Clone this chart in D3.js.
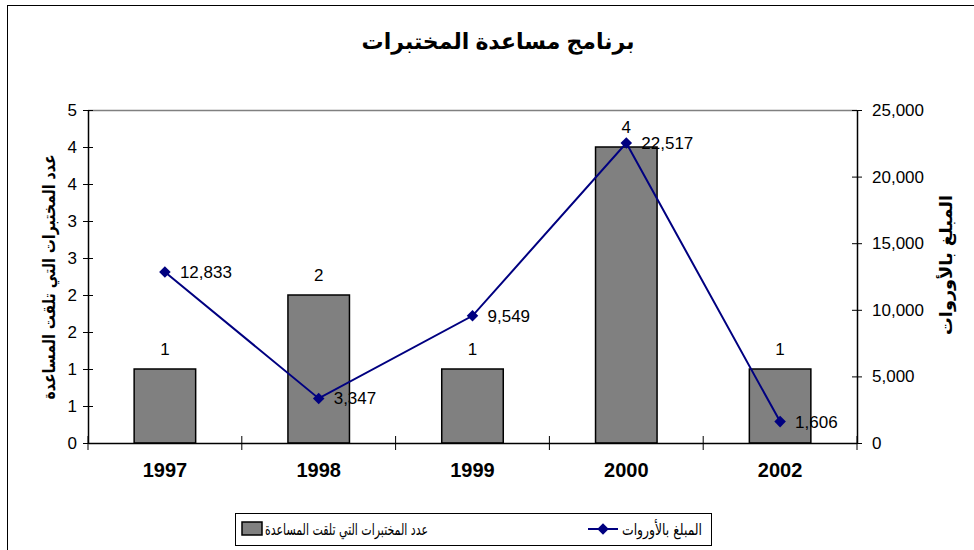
<!DOCTYPE html>
<html>
<head>
<meta charset="utf-8">
<script src="https://cdn.jsdelivr.net/npm/d3@7"></script>
<style>
  html, body { margin: 0; padding: 0; background: #fff; }
  svg { display: block; font-family: "Liberation Sans", Arial, "DejaVu Sans", sans-serif; }
</style>
</head>
<body>
<svg id="chart" width="974" height="550"></svg>
<script>
const title = "برنامج مساعدة المختبرات";
const years = ["1997", "1998", "1999", "2000", "2002"];
const labCounts = [1, 2, 1, 4, 1];
const amounts = [12833, 3347, 9549, 22517, 1606];
const leftTickValues = [0, 0.5, 1, 1.5, 2, 2.5, 3, 3.5, 4, 4.5];
const leftTickLabels = ["0", "1", "1", "2", "2", "3", "3", "4", "4", "5"];
const rightTickValues = [0, 5000, 10000, 15000, 20000, 25000];
const leftTitle = "عدد المختبرات التي تلقت المساعدة";
const rightTitle = "المبلغ بالأوروات";
const barSeriesName = "عدد المختبرات التي تلقت المساعدة";
const lineSeriesName = "المبلغ بالأوروات";

const svg = d3.select("#chart");
const plot = { left: 88, right: 857, top: 110, bottom: 443 };
const lineColor = "#000080";

// outer frame
svg.append("rect").attr("x", 7.5).attr("y", 5.5).attr("width", 1000).attr("height", 600)
  .attr("fill", "#fff").attr("stroke", "#000").attr("stroke-width", 1);

// title
svg.append("text").attr("x", 498).attr("y", 49).attr("text-anchor", "middle")
  .attr("font-size", 22).attr("font-weight", "bold").text(title);

const x = d3.scaleBand().domain(years).range([plot.left, plot.right]).paddingInner(0).paddingOuter(0);
const yL = d3.scaleLinear().domain([0, 4.5]).range([plot.bottom, plot.top]);
const yR = d3.scaleLinear().domain([0, 25000]).range([plot.bottom, plot.top]);

// plot area top border (gray)
svg.append("line").attr("x1", plot.left).attr("x2", plot.right)
  .attr("y1", plot.top + 0.5).attr("y2", plot.top + 0.5)
  .attr("stroke", "#808080").attr("stroke-width", 1.5);

// bars
const barW = x.bandwidth() * 0.4;
svg.append("g").selectAll("rect").data(years).join("rect")
  .attr("x", d => x(d) + (x.bandwidth() - barW) / 2)
  .attr("y", (d, i) => yL(labCounts[i]))
  .attr("width", barW)
  .attr("height", (d, i) => plot.bottom - yL(labCounts[i]))
  .attr("fill", "#808080").attr("stroke", "#000").attr("stroke-width", 1.5);

// bar labels
svg.append("g").selectAll("text").data(years).join("text")
  .attr("x", d => x(d) + x.bandwidth() / 2)
  .attr("y", (d, i) => yL(labCounts[i]) - 14)
  .attr("text-anchor", "middle").attr("font-size", 17)
  .text((d, i) => labCounts[i]);

// left axis
const axL = svg.append("g").attr("transform", `translate(${plot.left},0)`)
  .call(d3.axisLeft(yL).tickValues(leftTickValues).tickFormat((d, i) => leftTickLabels[i]).tickSizeInner(5).tickSizeOuter(0).tickPadding(6));
axL.select(".domain").attr("stroke", "#000").attr("stroke-width", 1.5);
axL.selectAll(".tick line").attr("x1", 5).attr("x2", -5).attr("stroke", "#000");
axL.selectAll(".tick text").attr("font-size", 17).attr("font-family", "Liberation Sans, Arial, sans-serif").attr("fill", "#000");

// right axis
const axR = svg.append("g").attr("transform", `translate(${plot.right},0)`)
  .call(d3.axisRight(yR).tickValues(rightTickValues).tickFormat(d3.format(",")).tickSizeInner(5).tickSizeOuter(0).tickPadding(10));
axR.select(".domain").attr("stroke", "#000").attr("stroke-width", 1.5);
axR.selectAll(".tick line").attr("x1", -5).attr("x2", 5).attr("stroke", "#000");
axR.selectAll(".tick text").attr("font-size", 17).attr("font-family", "Liberation Sans, Arial, sans-serif").attr("fill", "#000");

// bottom axis
const axB = svg.append("g").attr("transform", `translate(0,${plot.bottom})`)
  .call(d3.axisBottom(x).tickSize(0).tickPadding(20));
axB.select(".domain").attr("stroke", "#000").attr("stroke-width", 1.5);
axB.selectAll(".tick text").attr("font-size", 20).attr("font-weight", "bold")
  .attr("font-family", "Liberation Sans, Arial, sans-serif").attr("fill", "#000").attr("dy", "0.71em");
// category boundary ticks
const bounds = years.map(d => x(d)).concat([x(years[years.length - 1]) + x.bandwidth()]);
axB.append("g").selectAll("line").data(bounds).join("line")
  .attr("x1", d => d).attr("x2", d => d).attr("y1", -7).attr("y2", 7)
  .attr("stroke", "#000").attr("stroke-width", 1);

// line series
const line = d3.line().x((d, i) => x(years[i]) + x.bandwidth() / 2).y(d => yR(d));
svg.append("path").datum(amounts).attr("d", line)
  .attr("fill", "none").attr("stroke", lineColor).attr("stroke-width", 2);
const diamond = d3.symbol().type(d3.symbolDiamond2).size(85);
svg.append("g").selectAll("path").data(amounts).join("path")
  .attr("transform", (d, i) => `translate(${x(years[i]) + x.bandwidth() / 2},${yR(d)})`)
  .attr("d", diamond).attr("fill", lineColor);
svg.append("g").selectAll("text").data(amounts).join("text")
  .attr("x", (d, i) => x(years[i]) + x.bandwidth() / 2 + 15)
  .attr("y", d => yR(d) + 6)
  .attr("font-size", 17).text(d => d3.format(",")(d));

// axis titles
svg.append("text").attr("transform", "translate(55,277) rotate(-90)")
  .attr("text-anchor", "middle").attr("font-size", 17).attr("font-weight", "bold")
  .attr("font-family", "DejaVu Sans, sans-serif")
  .attr("textLength", 245).attr("lengthAdjust", "spacingAndGlyphs")
  .text(leftTitle);
svg.append("text").attr("transform", "translate(952,265) rotate(-90)")
  .attr("text-anchor", "middle").attr("font-size", 17).attr("font-weight", "bold")
  .attr("font-family", "DejaVu Sans, sans-serif")
  .attr("textLength", 140).attr("lengthAdjust", "spacingAndGlyphs")
  .text(rightTitle);

// legend
const lg = svg.append("g");
lg.append("rect").attr("x", 235.5).attr("y", 513.5).attr("width", 476).attr("height", 32)
  .attr("fill", "#fff").attr("stroke", "#000").attr("stroke-width", 1);
lg.append("rect").attr("x", 242).attr("y", 522).attr("width", 20).attr("height", 13)
  .attr("fill", "#808080").attr("stroke", "#000").attr("stroke-width", 1.5);
lg.append("text").attr("x", 428).attr("y", 535).attr("font-size", 16)
  .attr("font-family", "DejaVu Sans, sans-serif").attr("text-anchor", "end")
  .attr("textLength", 163).attr("lengthAdjust", "spacingAndGlyphs")
  .text(barSeriesName);
lg.append("line").attr("x1", 588).attr("x2", 618).attr("y1", 529).attr("y2", 529)
  .attr("stroke", lineColor).attr("stroke-width", 2);
lg.append("path").attr("transform", "translate(603,529)").attr("d", diamond).attr("fill", lineColor);
lg.append("text").attr("x", 702).attr("y", 535).attr("font-size", 16)
  .attr("font-family", "DejaVu Sans, sans-serif").attr("text-anchor", "end")
  .attr("textLength", 80).attr("lengthAdjust", "spacingAndGlyphs")
  .text(lineSeriesName);
</script>
</body>
</html>
